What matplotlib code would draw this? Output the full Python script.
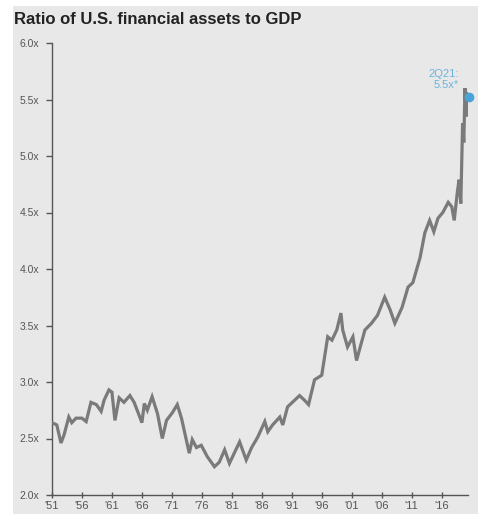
#!/usr/bin/env python3

"""
Ratio of U.S. financial assets to GDP, 1951 - 2Q21.
"""

import matplotlib
matplotlib.use('Agg')
import matplotlib.pyplot as plt
from matplotlib.patches import Rectangle

# values (decimal year, ratio)
years = [
    1951.0, 1951.8, 1952.5, 1953.0, 1953.8, 1954.3, 1955.0, 1956.0, 1956.7, 1957.5,
    1958.4, 1959.2, 1959.7, 1960.5, 1961.0, 1961.5, 1962.2, 1963.0, 1964.0, 1964.7,
    1965.5, 1966.0, 1966.4, 1966.9, 1967.7, 1968.6, 1969.4, 1970.1, 1971.1, 1971.9,
    1972.6, 1973.9, 1974.4, 1975.1, 1975.9, 1976.9, 1978.1, 1978.9, 1979.8, 1980.6,
    1981.4, 1982.3, 1983.4, 1984.3, 1985.3, 1986.5, 1987.0, 1987.8, 1989.0, 1989.5,
    1990.3, 1991.1, 1992.3, 1993.1, 1993.8, 1994.8, 1996.0, 1997.0, 1997.7, 1998.5,
    1999.2, 1999.5, 2000.3, 2001.2, 2001.8, 2003.2, 2004.3, 2005.3, 2006.5, 2007.4,
    2008.2, 2009.4, 2010.4, 2011.2, 2012.4, 2013.2, 2014.0, 2014.7, 2015.4, 2016.2,
    2017.1, 2017.7, 2018.1, 2018.6, 2018.9, 2019.2, 2019.5, 2019.7, 2019.9, 2020.1,
    2020.3,
]
ratio = [
    2.64, 2.62, 2.46, 2.53, 2.69, 2.64, 2.68, 2.68, 2.65, 2.82,
    2.80, 2.74, 2.84, 2.93, 2.91, 2.66, 2.86, 2.82, 2.88, 2.82,
    2.71, 2.64, 2.81, 2.75, 2.87, 2.72, 2.50, 2.66, 2.73, 2.80,
    2.68, 2.37, 2.49, 2.42, 2.44, 2.34, 2.25, 2.29, 2.40, 2.28,
    2.37, 2.47, 2.31, 2.42, 2.51, 2.65, 2.56, 2.62, 2.69, 2.62,
    2.78, 2.82, 2.88, 2.84, 2.80, 3.02, 3.06, 3.40, 3.37, 3.46,
    3.61, 3.46, 3.31, 3.40, 3.19, 3.46, 3.52, 3.59, 3.75, 3.64,
    3.52, 3.66, 3.84, 3.88, 4.10, 4.32, 4.43, 4.33, 4.45, 4.50,
    4.59, 4.55, 4.43, 4.67, 4.79, 4.58, 5.29, 5.12, 5.60, 5.35,
    5.55,
]

last_year = 2020.6
last_value = 5.52

tick_years = [1951, 1956, 1961, 1966, 1971, 1976, 1981, 1986, 1991, 1996, 2001, 2006, 2011, 2016]
tick_labels = ["'51", "'56", "'61", "'66", "'71", "'76", "'81", "'86", "'91", "'96", "'01", "'06", "'11", "'16"]
y_ticks = [2.0, 2.5, 3.0, 3.5, 4.0, 4.5, 5.0, 5.5, 6.0]

plt.rcParams['font.family'] = ['Liberation Sans', 'DejaVu Sans']

W, H = 478, 523
fig = plt.figure(figsize=(W / 100, H / 100), dpi=100)
fig.patch.set_facecolor('white')

# grey panel behind everything
fig.patches.append(Rectangle((13 / W, (H - 514) / H), 1 - 13 / W, (514 - 6) / H,
                             transform=fig.transFigure, facecolor='#e8e8e8',
                             edgecolor='none', zorder=-10))

ax = fig.add_axes([52 / W, (H - 495) / H, (468 - 52) / W, (495 - 43) / H])
ax.set_facecolor('none')
ax.set_zorder(5)

ax.plot(years, ratio, color='#7a7a7a', linewidth=2.3, solid_joinstyle='miter', zorder=3)
ax.plot([years[-1], last_year], [ratio[-1], last_value], color='#7a7a7a', linewidth=2.3, zorder=3)
ax.plot([last_year], [last_value], 'o', color='#4aa3d6', markersize=6, clip_on=False, zorder=4)
ax.text(2018.8, 5.58, '2Q21:\n5.5x*', color='#6bb3dc', fontsize=8, ha='right', va='bottom',
        linespacing=1.15)

ax.set_xlim(1951, 2020.4)
ax.set_ylim(2.0, 6.0)

ax.set_xticks(tick_years)
ax.set_xticklabels(tick_labels)
ax.set_yticks(y_ticks)
ax.set_yticklabels([f'{v:.1f}x' for v in y_ticks])

for side in ('top', 'right'):
    ax.spines[side].set_visible(False)
for side in ('left', 'bottom'):
    ax.spines[side].set_color('#555555')
    ax.spines[side].set_linewidth(1.0)

ax.tick_params(axis='y', direction='out', length=4, width=1, color='#555555',
               labelsize=7.5, labelcolor='#555555', pad=5)
ax.tick_params(axis='x', direction='inout', length=5, width=1, color='#555555',
               labelsize=8, labelcolor='#555555', pad=1.5)

fig.text(14 / W, 1 - 20 / H, 'Ratio of U.S. financial assets to GDP', fontsize=12,
         fontweight='bold', color='#222222', ha='left', va='center')

fig.savefig('out.png', dpi=100)
